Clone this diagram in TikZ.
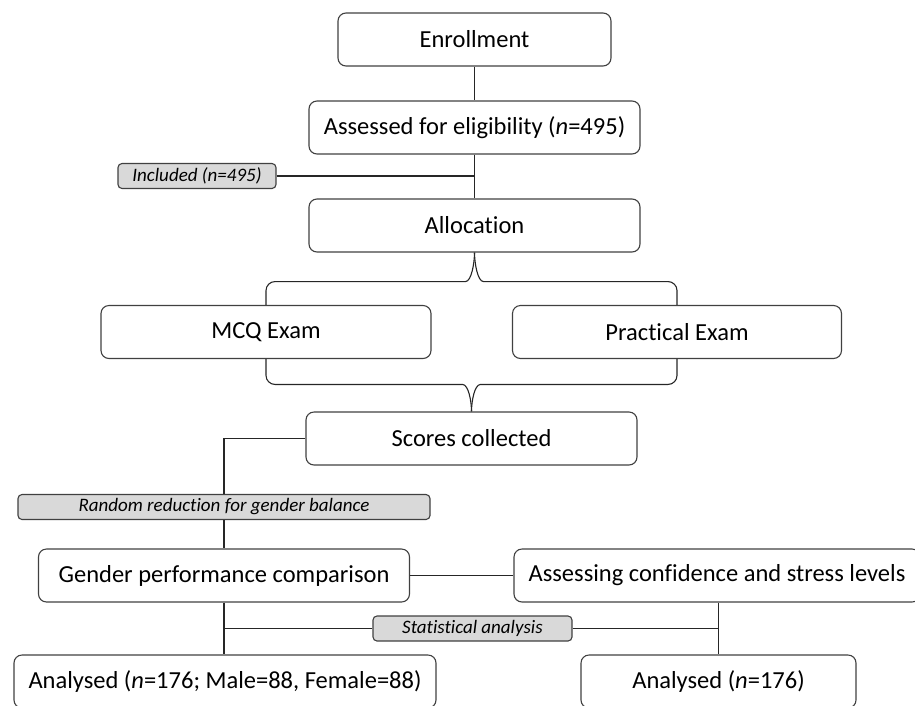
\documentclass[tikz,border=0pt]{standalone}
\usepackage{fontspec}
\setmainfont{Carlito}[Ligatures=NoCommon]
\usetikzlibrary{positioning, calc}

\definecolor{boxline}{HTML}{404040}
\definecolor{notefill}{HTML}{D9D9D9}

\begin{document}
\begin{tikzpicture}[x=1pt, y=-1pt]

	\tikzstyle{stage}=[draw=boxline, line width=1.1pt, rounded corners=8pt, minimum height=53pt, inner sep=0pt, font=\fontsize{24.5}{29}\selectfont]
	\tikzstyle{note}=[draw=boxline, line width=1.1pt, fill=notefill, rounded corners=4pt, minimum height=25pt, inner sep=0pt, font=\fontsize{19}{23}\selectfont\itshape]

	\tikzstyle{link}=[draw=black!85, line width=1.1pt]

	\useasboundingbox (0,0) rectangle (915,705);

	\node[stage, minimum width=273pt] (enroll) at (474.5,39.5) {Enrollment};
	\node[stage, minimum width=331pt] (assess) at (474.5,127.5) {Assessed for eligibility (\textit{n}=495)};
	\node[note, minimum width=158pt] (included) at (197,176) {Included (n=495)};
	\node[stage, minimum width=331pt] (alloc) at (474.5,225.5) {Allocation};

	\node[stage, minimum width=330pt] (mcq) at (266,332) {MCQ Exam};
	\node[stage, minimum width=329pt] (practical) at (677,332) {Practical Exam};

	\node[stage, minimum width=331pt] (scores) at (471.5,438.5) {Scores collected};
	\node[note, minimum width=412pt] (random) at (224,507) {Random reduction for gender balance};

	\node[stage, minimum width=371pt] (gender) at (224,575.5) {Gender performance comparison};
	\node[stage, minimum width=406pt] (confidence) at (717,575.5) {Assessing confidence and stress levels};

	\node[note, minimum width=199pt] (stats) at (472.5,628.5) {Statistical analysis};

	\node[stage, minimum width=422pt] (analysed1) at (225,681.5) {Analysed (\textit{n}=176; Male=88, Female=88)};
	\node[stage, minimum width=275pt] (analysed2) at (718.5,681.5) {Analysed (\textit{n}=176)};

	\draw[link] (enroll) -- (assess);
	\draw[link] (assess) -- (alloc);
	\draw[link] (included.east) -- (included.east -| assess.south);

	% split into the two exams
	\draw[link] (alloc.south) .. controls ($(alloc.south)+(0,10)$) and ($(alloc.south)+(-3,29)$) .. ($(alloc.south)+(-9,29)$) [rounded corners=9pt] -| (mcq.north);
	\draw[link] (alloc.south) .. controls ($(alloc.south)+(0,10)$) and ($(alloc.south)+(3,29)$) .. ($(alloc.south)+(9,29)$) [rounded corners=9pt] -| (practical.north);

	% join back
	\draw[link] (scores.north) .. controls ($(scores.north)+(0,-10)$) and ($(scores.north)+(-3,-27)$) .. ($(scores.north)+(-9,-27)$) [rounded corners=9pt] -| (mcq.south);
	\draw[link] (scores.north) .. controls ($(scores.north)+(0,-10)$) and ($(scores.north)+(3,-27)$) .. ($(scores.north)+(9,-27)$) [rounded corners=9pt] -| (practical.south);

	\draw[link] (scores.west) -| (random.north);
	\draw[link] (random.south) -- (gender.north);
	\draw[link] (gender.east) -- (confidence.west);

	\draw[link] (gender.south) -- (gender.south |- analysed1.north);
	\draw[link] (confidence.south -| analysed2.north) -- (analysed2.north);
	\draw[link] (stats.west) -- (stats.west -| gender.south);
	\draw[link] (stats.east) -- (stats.east -| analysed2.north);

\end{tikzpicture}
\end{document}
